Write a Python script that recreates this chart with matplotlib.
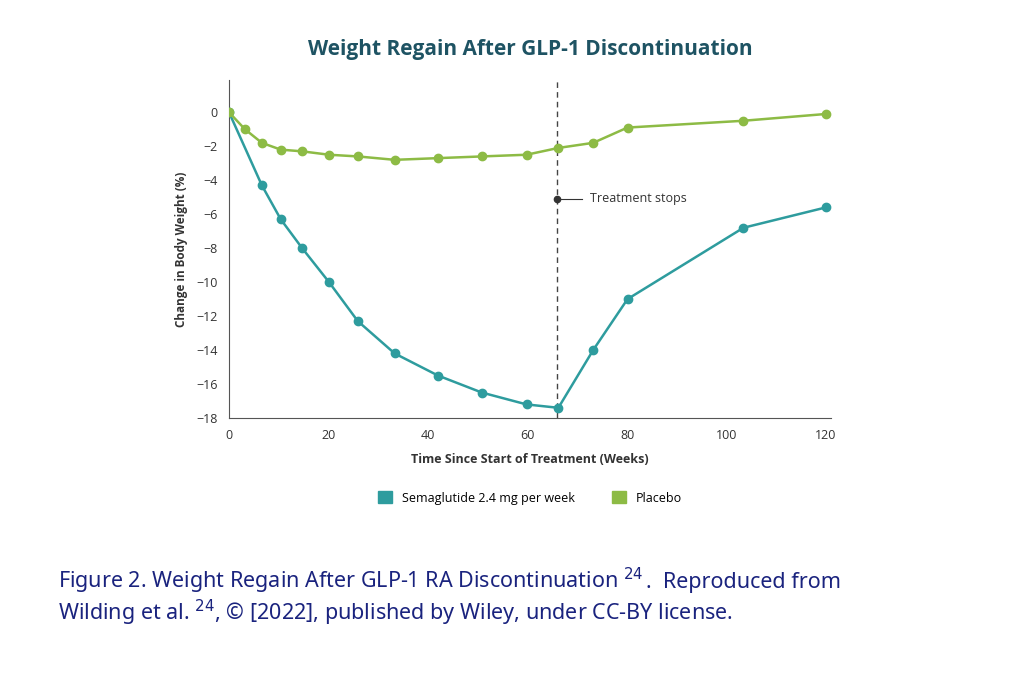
import matplotlib.pyplot as plt
from matplotlib.patches import Patch

plt.rcParams['font.family'] = ['Open Sans', 'DejaVu Sans']

weeks = [0, 6.6, 10.4, 14.7, 20.1, 25.9, 33.3, 42, 50.8, 59.8, 66.2, 73.2, 80.1, 103.4, 120]
sema = [0, -4.3, -6.3, -8.0, -10.0, -12.3, -14.2, -15.5, -16.5, -17.2, -17.4, -14.0, -11.0, -6.8, -5.6]
weeks_p = [0, 3.2, 6.6, 10.4, 14.7, 20.1, 25.9, 33.3, 42, 50.8, 59.8, 66.2, 73.2, 80.1, 103.4, 120]
placebo = [0, -1.0, -1.8, -2.2, -2.3, -2.5, -2.6, -2.8, -2.7, -2.6, -2.5, -2.1, -1.8, -0.9, -0.5, -0.1]
stop_week = 66
stop_y = -5.1

teal = '#2e9c9e'
green = '#8dbb45'
navy = '#1a237e'

fig = plt.figure(figsize=(10.29, 6.73), dpi=100)
ax = fig.add_axes([229/1029, 1-418/673, (831-229)/1029, (418-80)/673])

ax.plot(weeks, sema, color=teal, lw=1.8, marker='o', ms=6, zorder=3)
ax.plot(weeks_p, placebo, color=green, lw=1.8, marker='o', ms=6, zorder=3)
ax.axvline(stop_week, color='#444444', ls=(0, (4, 3)), lw=1)
ax.plot([stop_week], [stop_y], 'o', color='#333333', ms=4.5, zorder=4)
ax.plot([stop_week, stop_week + 5], [stop_y, stop_y], color='#333333', lw=0.8)
ax.text(stop_week + 6.5, stop_y, 'Treatment stops', fontsize=9, va='center', color='#333333')

ax.set_xlim(0, 121)
ax.set_ylim(-18, 1.9)
ax.set_xticks([0, 20, 40, 60, 80, 100, 120])
ax.set_yticks(range(0, -19, -2))
ax.tick_params(labelsize=9, colors='#333333', length=0, pad=8)
for s in ['top', 'right']:
    ax.spines[s].set_visible(False)
for s in ['left', 'bottom']:
    ax.spines[s].set_color('#555555')
ax.set_xlabel('Time Since Start of Treatment (Weeks)', fontsize=9, fontweight='bold', color='#333333', labelpad=8)
ax.set_ylabel('Change in Body Weight (%)', fontsize=8.5, fontweight='bold', color='#333333', labelpad=6)

fig.text(530/1029, 1-50/673, 'Weight Regain After GLP-1 Discontinuation', ha='center', va='center',
         fontsize=15, fontweight='bold', color='#1e5363')

handles = [Patch(color=teal, label='Semaglutide 2.4 mg per week'), Patch(color=green, label='Placebo')]
fig.legend(handles=handles, loc='center', bbox_to_anchor=(530/1029, 1-498/673), ncol=2, frameon=False,
           fontsize=9, handlelength=1.1, handleheight=1.1, columnspacing=3)

cap = dict(fontsize=15.5, color=navy, va='baseline', family=['Noto Sans', 'DejaVu Sans'])
t1 = fig.text(58/1029, 1-588/673, r'Figure 2. Weight Regain After GLP-1 RA Discontinuation $^{24}$',
              fontweight='bold', **cap)
fig.canvas.draw()
bb = t1.get_window_extent().transformed(fig.transFigure.inverted())
fig.text(bb.x1 + 2/1029, 1-588/673, '.  Reproduced from', **cap)
fig.text(58/1029, 1-620/673, r'Wilding et al. $^{24}$, © [2022], published by Wiley, under CC-BY license.', **cap)

fig.savefig('out.png', dpi=100)
